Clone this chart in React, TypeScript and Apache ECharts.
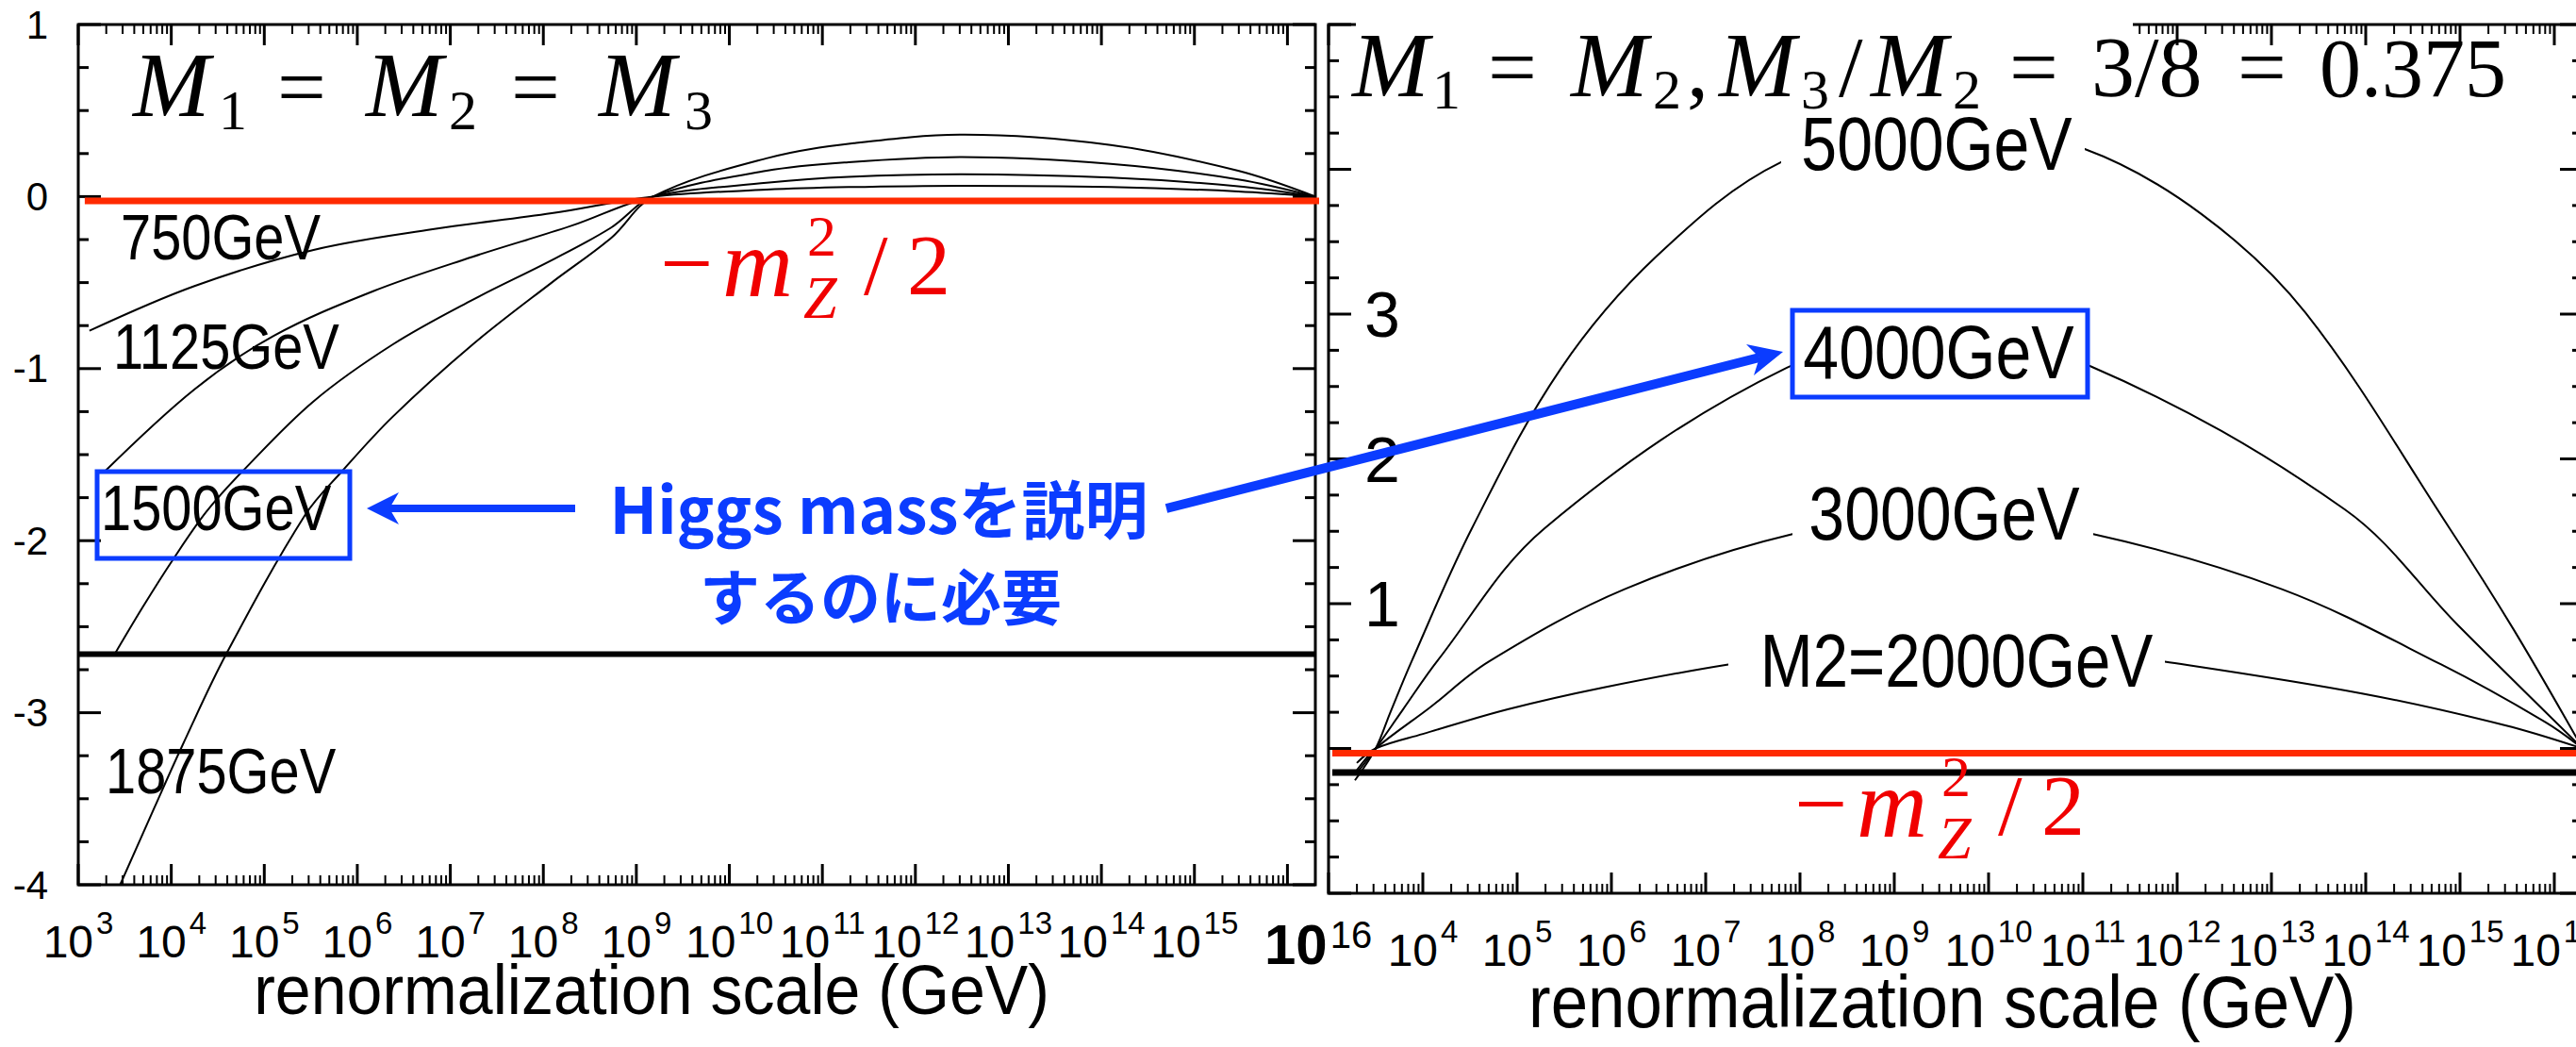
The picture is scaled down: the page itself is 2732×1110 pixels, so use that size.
import { useEffect, useRef } from 'react';
import * as echarts from 'echarts';

// ---------------- data ----------------
// x values are log10(renormalization scale / GeV)
const X_MIN = 3;
const X_MAX = 16.3;
const LEFT_Y_MIN = -4;
const LEFT_Y_MAX = 1;
const RIGHT_Y_MIN = -1;
const RIGHT_Y_MAX = 5;
const LOG_MINOR_FACTORS = [2, 3, 4, 5, 6, 7, 8, 9];
const Y_MINOR_STEP = 0.25;
const RIGHT_Y_LABELS = [1, 2, 3];

// left panel : M1 = M2 = M3
const M750_X = [3.12, 4.25, 5.53, 6.81, 8.09, 9.18, 10.4, 11.28, 12.5, 14.1, 15.47, 16.3];
const M750_Y = [-0.78, -0.52, -0.31, -0.19, -0.097, 0, 0.04, 0.055, 0.063, 0.055, 0.03, 0];
const M1125_X = [3.28, 4.25, 5.1, 6.17, 7.24, 8.3, 9.18, 10.4, 11.28, 12.5, 14.1, 15.47, 16.3];
const M1125_Y = [-1.6, -1.12, -0.81, -0.55, -0.35, -0.17, 0, 0.08, 0.115, 0.13, 0.11, 0.06, 0];
const M1500_X = [3.38, 3.7, 4.03, 4.38, 4.76, 5.53, 6.38, 7.24, 8.09, 8.73, 9.18, 10.4, 11.28, 12.5, 14.1, 15.47, 16.3];
const M1500_Y = [-2.67, -2.38, -2.1, -1.83, -1.6, -1.19, -0.86, -0.6, -0.37, -0.18, 0, 0.15, 0.2, 0.23, 0.19, 0.1, 0];
const M1875_X = [3.45, 3.82, 4.12, 4.59, 5.44, 5.83, 6.38, 7.24, 8.09, 8.73, 9.18, 10.42, 11.34, 12.53, 14.1, 15.47, 16.3];
const M1875_Y = [-4.0, -3.55, -3.19, -2.66, -1.85, -1.6, -1.28, -0.86, -0.5, -0.24, 0, 0.225, 0.31, 0.36, 0.3, 0.15, 0];
const LEFT_RED_X = [3.07, 16.56];
const LEFT_RED_Y = [-0.025, -0.025];
const LEFT_BLACK_X = [3, 16.3];
const LEFT_BLACK_Y = [-2.66, -2.66];

// right panel : M1 = M2, M3/M2 = 3/8
const R2000_X = [3.3, 3.5, 4.0, 4.9, 5.91, 7.24, 8.5, 9.5, 10.5, 11.87, 13.96, 15.48, 16.3];
const R2000_Y = [-0.1, 0, 0.1, 0.27, 0.42, 0.58, 0.69, 0.74, 0.72, 0.6, 0.38, 0.16, 0];
const R3000_X = [3.3, 3.5, 4.07, 4.7, 6.14, 7.92, 9.5, 11.11, 13.11, 14.8, 15.91, 16.3];
const R3000_Y = [-0.15, 0, 0.28, 0.6, 1.1, 1.48, 1.62, 1.48, 1.1, 0.58, 0.18, 0];
const R4000_X = [3.3, 3.5, 3.79, 4.16, 5.29, 7.86, 9.5, 11.08, 13.78, 14.98, 16.3];
const R4000_Y = [-0.17, 0, 0.27, 0.61, 1.52, 2.63, 2.85, 2.64, 1.65, 0.85, 0];
const R5000_X = [3.28, 3.5, 3.65, 3.88, 4.52, 5.46, 6.48, 7.8, 9.5, 11.02, 12.26, 13.36, 14.89, 15.57, 16.3];
const R5000_Y = [-0.22, 0, 0.24, 0.6, 1.52, 2.62, 3.4, 4.05, 4.35, 4.14, 3.69, 3.01, 1.52, 0.82, 0];
const RIGHT_RED_X = [3.04, 16.3];
const RIGHT_RED_Y = [-0.033, -0.033];
const RIGHT_BLACK_X = [3.04, 16.3];
const RIGHT_BLACK_Y = [-0.166, -0.166];

// ---------------- styling ----------------
const SANS = "'Liberation Sans', Arial, sans-serif";
const SERIF = "'Liberation Serif', 'DejaVu Serif', serif";
const CJK = "'Noto Sans CJK JP', 'Noto Sans', sans-serif";
const BLUE = '#0b3cff';
const RED_LINE = '#ff2a00';
const RED_TEXT = '#f00000';

const pts = (xs: number[], ys: number[]) => xs.map((x, i) => [x, ys[i]]);

function xTickData() {
  const out: number[][] = [];
  for (let n = Math.ceil(X_MIN); n <= X_MAX; n++) {
    out.push([n, 1]);
    for (const k of LOG_MINOR_FACTORS) {
      const v = n + Math.log10(k);
      if (v < X_MAX - 1e-6) out.push([v, 0]);
    }
  }
  return out;
}
function yTickData(min: number, max: number) {
  const out: number[][] = [];
  for (let v = min; v <= max + 1e-9; v += Y_MINOR_STEP) {
    out.push([X_MIN, v, Math.abs(v - Math.round(v)) < 1e-9 ? 1 : 0]);
  }
  return out;
}

const xTickRender = (params: any, api: any) => {
  const cs = params.coordSys;
  const v = api.value(0);
  const major = api.value(1) === 1;
  const x = api.coord([v, 0])[0];
  const len = major ? 22 : 10;
  const style = { stroke: '#000', lineWidth: major ? 3 : 2 };
  return {
    type: 'group',
    children: [
      { type: 'line', shape: { x1: x, y1: cs.y + cs.height, x2: x, y2: cs.y + cs.height - len }, style },
      { type: 'line', shape: { x1: x, y1: cs.y, x2: x, y2: cs.y + len }, style },
    ],
  };
};
const yTickRender = (params: any, api: any) => {
  const cs = params.coordSys;
  const v = api.value(1);
  const major = api.value(2) === 1;
  const y = api.coord([X_MIN, v])[1];
  const len = major ? 24 : 11;
  const style = { stroke: '#000', lineWidth: 3 };
  return {
    type: 'group',
    children: [
      { type: 'line', shape: { x1: cs.x, y1: y, x2: cs.x + len, y2: y }, style },
      { type: 'line', shape: { x1: cs.x + cs.width, y1: y, x2: cs.x + cs.width - len, y2: y }, style },
    ],
  };
};

const curve = (xs: number[], ys: number[], g: number) => ({
  type: 'line',
  xAxisIndex: g,
  yAxisIndex: g,
  data: pts(xs, ys),
  symbol: 'none',
  showSymbol: false,
  smooth: 0.35,
  lineStyle: { color: '#000', width: 2 },
  z: 2,
  silent: true,
});
const hline = (xs: number[], ys: number[], g: number, color: string, width: number, clip: boolean) => ({
  type: 'line',
  xAxisIndex: g,
  yAxisIndex: g,
  data: pts(xs, ys),
  symbol: 'none',
  showSymbol: false,
  lineStyle: { color, width },
  clip,
  z: 4,
  silent: true,
});

const isInt = (v: number) => Math.abs(v - Math.round(v)) < 1e-6;
const expRich = {
  b: { fontSize: 48, fontFamily: SANS, color: '#000', lineHeight: 60, verticalAlign: 'bottom' },
  s: { fontSize: 33, fontFamily: SANS, color: '#000', lineHeight: 20, verticalAlign: 'top', padding: [0, 0, 0, 3] },
};

const xAxisBase = (g: number, skip: number) => ({
  gridIndex: g,
  type: 'value',
  min: X_MIN,
  max: X_MAX,
  interval: 1,
  axisLine: { show: false },
  axisTick: { show: false },
  splitLine: { show: false },
  axisLabel: {
    margin: 24,
    hideOverlap: false,
    formatter: (v: number) => (isInt(v) && Math.round(v) !== skip ? `{b|10}{s|${Math.round(v)}}` : ''),
    rich: expRich,
  },
});

const text = (t: string, x: number, y: number, size: number, family: string, fill: string, align = 'left', extra: any = {}, scaleX = 1) => ({
  type: 'text',
  x,
  y,
  scaleX,
  z: 110,
  silent: true,
  style: {
    text: t,
    fontSize: size,
    fontFamily: family,
    fill,
    align,
    textAlign: align,
    verticalAlign: 'middle',
    textVerticalAlign: 'middle',
    ...extra,
  },
});

// serif math pieces: kind M = italic capital, d = upright main size, s = subscript, n = number
const mathPieces = (pieces: [string, number, string][], mainBase: number, subBase: number, color: string) =>
  pieces.map(([t, x, kind]) => {
    if (kind === 'M') return text(t, x, mainBase - 0.3375 * 98, 98, SERIF, color, 'left', { fontStyle: 'italic' });
    if (kind === 's') return text(t, x, subBase - 0.3375 * 60, 60, SERIF, color);
    if (kind === 'n') return text(t, x, mainBase - 0.3375 * 88, 88, SERIF, color);
    return text(t, x, mainBase - 0.3375 * 92, 92, SERIF, color);
  });

const TITLE_LEFT: [string, number, string][] = [
  ['M', 141, 'M'], ['1', 232, 's'], ['=', 294, 'd'],
  ['M', 388, 'M'], ['2', 476, 's'], ['=', 542, 'd'],
  ['M', 635, 'M'], ['3', 726, 's'],
];
const TITLE_RIGHT: [string, number, string][] = [
  ['M', 1434, 'M'], ['1', 1519, 's'], ['=', 1578, 'd'],
  ['M', 1666, 'M'], ['2', 1753, 's'], [',', 1789, 'd'],
  ['M', 1823, 'M'], ['3', 1910, 's'], ['/', 1950, 'd'],
  ['M', 1984, 'M'], ['2', 2071, 's'], ['=', 2131, 'd'],
  ['3/8', 2218, 'd'], ['=', 2373, 'd'], ['0.375', 2460, 'n'],
];

const mzGroup = (x: number, y: number) => ({
  type: 'group',
  x,
  y,
  z: 110,
  children: [
    text('−', -2, -33, 100, SERIF, RED_TEXT),
    text('m', 64, -34, 104, SERIF, RED_TEXT, 'left', { fontStyle: 'italic' }),
    text('2', 154, -62, 62, SERIF, RED_TEXT),
    text('Z', 150, 3, 64, SERIF, RED_TEXT, 'left', { fontStyle: 'italic' }),
    text('/', 214, -31, 92, SERIF, RED_TEXT),
    text('2', 260, -31, 92, SERIF, RED_TEXT),
  ],
});

const rect = (x: number, y: number, w: number, h: number, fill: string, stroke?: string, lw = 0, z = 100) => ({
  type: 'rect',
  z,
  silent: true,
  shape: { x, y, width: w, height: h },
  style: { fill, stroke: stroke || null, lineWidth: lw },
});

const LEFT_LABEL = 68;
const RIGHT_LABEL = 80;
const NARROW_X = 0.85;

const option: any = {
  animation: false,
  backgroundColor: '#ffffff',
  grid: [
    { left: 83, right: 1337, top: 26, bottom: 172, show: true, borderColor: '#000', borderWidth: 3, containLabel: false, outerBoundsMode: 'none' },
    { left: 1409, right: -7, top: 26, bottom: 163, show: true, borderColor: '#000', borderWidth: 3, containLabel: false, outerBoundsMode: 'none' },
  ],
  xAxis: [xAxisBase(0, 16), xAxisBase(1, 3)],
  yAxis: [
    {
      gridIndex: 0,
      type: 'value',
      min: LEFT_Y_MIN,
      max: LEFT_Y_MAX,
      interval: 1,
      axisLine: { show: false },
      axisTick: { show: false },
      splitLine: { show: false },
      axisLabel: { margin: 32, fontSize: 42, fontFamily: SANS, color: '#000', formatter: (v: number) => String(v) },
    },
    {
      gridIndex: 1,
      type: 'value',
      min: RIGHT_Y_MIN,
      max: RIGHT_Y_MAX,
      interval: 1,
      axisLine: { show: false },
      axisTick: { show: false },
      splitLine: { show: false },
      axisLabel: {
        inside: true,
        margin: 38,
        fontSize: 68,
        fontFamily: SANS,
        color: '#000',
        formatter: (v: number) => (RIGHT_Y_LABELS.includes(v) ? String(v) : ''),
      },
    },
  ],
  series: [
    curve(M750_X, M750_Y, 0),
    curve(M1125_X, M1125_Y, 0),
    curve(M1500_X, M1500_Y, 0),
    curve(M1875_X, M1875_Y, 0),
    hline(LEFT_BLACK_X, LEFT_BLACK_Y, 0, '#000', 6, false),
    hline(LEFT_RED_X, LEFT_RED_Y, 0, RED_LINE, 7, false),
    curve(R2000_X, R2000_Y, 1),
    curve(R3000_X, R3000_Y, 1),
    curve(R4000_X, R4000_Y, 1),
    curve(R5000_X, R5000_Y, 1),
    hline(RIGHT_BLACK_X, RIGHT_BLACK_Y, 1, '#000', 7, true),
    hline(RIGHT_RED_X, RIGHT_RED_Y, 1, RED_LINE, 7, true),
    { type: 'custom', xAxisIndex: 0, yAxisIndex: 0, data: xTickData(), renderItem: xTickRender, z: 3, silent: true, clip: false },
    { type: 'custom', xAxisIndex: 1, yAxisIndex: 1, data: xTickData(), renderItem: xTickRender, z: 3, silent: true, clip: false },
    { type: 'custom', xAxisIndex: 0, yAxisIndex: 0, data: yTickData(LEFT_Y_MIN, LEFT_Y_MAX), renderItem: yTickRender, z: 3, silent: true, clip: false },
    { type: 'custom', xAxisIndex: 1, yAxisIndex: 1, data: yTickData(RIGHT_Y_MIN, RIGHT_Y_MAX), renderItem: yTickRender, z: 3, silent: true, clip: false },
  ],
  graphic: [
    // white patch hiding the right panel's top frame under its title
    rect(1438, 0, 824, 50, '#ffffff'),
    // titles
    ...mathPieces(TITLE_LEFT, 123, 137, '#000'),
    ...mathPieces(TITLE_RIGHT, 102, 115, '#000'),
    // left curve labels
    text('750GeV', 128, 251, LEFT_LABEL, SANS, '#000', 'left', {}, NARROW_X),
    text('1125GeV', 120, 367, LEFT_LABEL, SANS, '#000', 'left', {}, NARROW_X),
    rect(103, 500, 268, 92, 'rgba(0,0,0,0)', BLUE, 5),
    text('1500GeV', 107, 538, LEFT_LABEL, SANS, '#000', 'left', {}, NARROW_X),
    text('1875GeV', 112, 817, LEFT_LABEL, SANS, '#000', 'left', {}, NARROW_X),
    // right curve labels
    rect(1889, 118, 322, 72, '#ffffff'),
    text('5000GeV', 2054, 153, RIGHT_LABEL, SANS, '#000', 'center', {}, NARROW_X),
    rect(1901, 329, 313, 92, '#ffffff', BLUE, 5),
    text('4000GeV', 2056, 374, RIGHT_LABEL, SANS, '#000', 'center', {}, NARROW_X),
    rect(1901, 508, 319, 72, '#ffffff'),
    text('3000GeV', 2062, 545, RIGHT_LABEL, SANS, '#000', 'center', {}, NARROW_X),
    rect(1833, 663, 463, 72, '#ffffff'),
    text('M2=2000GeV', 2075, 700, RIGHT_LABEL, SANS, '#000', 'center', {}, 0.84),
    // -m_Z^2/2 labels
    mzGroup(702, 312),
    mzGroup(1905, 885),
    // blue annotation
    text('Higgs massを説明', 932, 536, 67, CJK, BLUE, 'center', { fontWeight: 'bold' }),
    text('するのに必要', 934, 629, 64, CJK, BLUE, 'center', { fontWeight: 'bold' }),
    { type: 'line', z: 105, silent: true, shape: { x1: 412, y1: 539, x2: 610, y2: 539 }, style: { stroke: BLUE, lineWidth: 8 } },
    { type: 'polygon', z: 105, silent: true, shape: { points: [[389, 539], [423, 522], [413, 539], [423, 556]] }, style: { fill: BLUE } },
    { type: 'line', z: 105, silent: true, shape: { x1: 1237, y1: 539, x2: 1866, y2: 379 }, style: { stroke: BLUE, lineWidth: 10 } },
    { type: 'polygon', z: 105, silent: true, shape: { points: [[1891, 373], [1852, 365], [1866, 379], [1860, 398]] }, style: { fill: BLUE } },
    // bold 10^16 label at the panel junction
    {
      type: 'text',
      x: 1341,
      y: 971,
      z: 110,
      silent: true,
      style: {
        text: '{b|10}{s|16}',
        align: 'left',
        textAlign: 'left',
        verticalAlign: 'top',
        textVerticalAlign: 'top',
        rich: {
          b: { fontSize: 60, fontFamily: SANS, fontWeight: 'bold', fill: '#000', color: '#000', lineHeight: 60, verticalAlign: 'bottom' },
          s: { fontSize: 40, fontFamily: SANS, fill: '#000', color: '#000', lineHeight: 22, verticalAlign: 'top', padding: [0, 0, 0, 3] },
        },
      },
    },
    // axis titles
    text('renormalization scale (GeV)', 691, 1050, 74, SANS, '#000', 'center', {}, 0.92),
    text('renormalization scale (GeV)', 2060, 1062, 77, SANS, '#000', 'center', {}, 0.92),
  ],
};

export default function App() {
  const ref = useRef<HTMLDivElement>(null);
  useEffect(() => {
    if (!ref.current) return;
    const chart = echarts.init(ref.current, null, { renderer: 'svg' });
    chart.setOption(option);
    return () => chart.dispose();
  }, []);
  return (
    <div
      ref={ref}
      style={{ position: 'fixed', left: 0, top: 0, width: 2732, height: 1110, background: '#ffffff' }}
    />
  );
}
